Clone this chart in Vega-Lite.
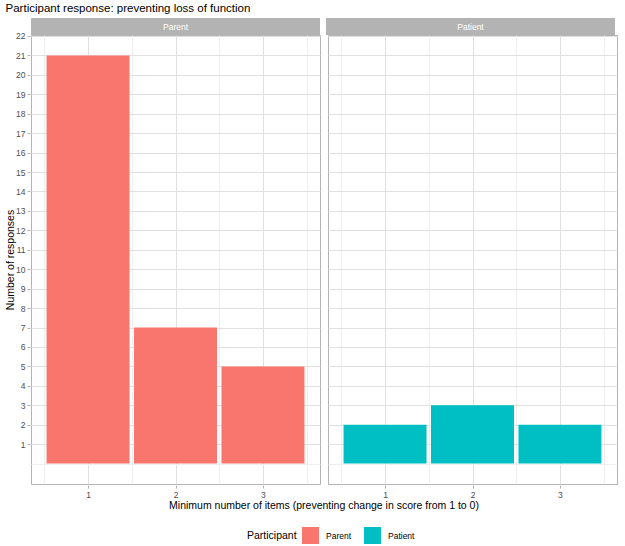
{
  "$schema": "https://vega.github.io/schema/vega-lite/v6.json",
  "background": "white",
  "padding": {"left": 5, "top": 2, "right": 5, "bottom": 5},
  "title": {"text": "Participant response: preventing loss of function", "anchor": "start", "fontSize": 11.5, "fontWeight": "normal", "font": "Liberation Sans", "color": "#000000", "offset": 4},
  "data": {"values": [
    {"Participant": "Parent", "Items": 1, "Count": 21},
    {"Participant": "Parent", "Items": 2, "Count": 7},
    {"Participant": "Parent", "Items": 3, "Count": 5},
    {"Participant": "Patient", "Items": 1, "Count": 2},
    {"Participant": "Patient", "Items": 2, "Count": 3},
    {"Participant": "Patient", "Items": 3, "Count": 2}
  ]},
  "spacing": -4,
  "vconcat": [
    {
      "facet": {"column": {"field": "Participant", "type": "nominal", "header": null}},
      "spacing": 6,
      "spec": {
        "width": 289,
        "height": 17,
        "view": {"fill": "#b3b3b3", "stroke": null},
        "transform": [{"aggregate": [{"op": "count", "as": "n"}], "groupby": ["Participant"]}],
        "mark": {"type": "text", "color": "white", "fontSize": 8.5, "font": "Liberation Sans", "baseline": "middle", "align": "center"},
        "encoding": {"text": {"field": "Participant", "type": "nominal"}}
      }
    },
    {
      "facet": {"column": {"field": "Participant", "type": "nominal", "header": {"labelOrient": "bottom", "labelExpr": "''", "labelFontSize": 1, "labelPadding": 0, "title": "Minimum number of items (preventing change in score from 1 to 0)", "titleOrient": "bottom", "titleFont": "Liberation Sans", "titleFontSize": 10.5, "titleFontWeight": "normal", "titleColor": "#000000", "titlePadding": -9}}},
      "spacing": 6,
      "spec": {
        "width": 289,
        "height": 449,
        "view": {"stroke": "#b3b3b3", "fill": "white"},
        "mark": {"type": "bar", "size": 83},
        "encoding": {
          "x": {
            "field": "Items", "type": "quantitative",
            "scale": {"domain": [0.405, 3.595], "nice": false, "zero": false},
            "axis": {
              "title": null,
              "values": [0.5, 1, 1.5, 2, 2.5, 3, 3.5],
              "labelExpr": "datum.value % 1 == 0 ? format(datum.value, 'd') : ''",
              "labelOverlap": false,
              "domain": false,
              "grid": true,
              "gridColor": {"condition": {"test": "datum.value % 1 == 0", "value": "#e0e0e0"}, "value": "#eeeeee"},
              "tickSize": {"condition": {"test": "datum.value % 1 == 0", "value": 3}, "value": 0},
              "tickColor": "#b3b3b3",
              "labelFont": "Liberation Sans", "labelFontSize": 8.5, "labelColor": "#4d4d4d", "labelPadding": 2
            }
          },
          "y": {
            "field": "Count", "type": "quantitative", "stack": null,
            "scale": {"domain": [-1.05, 22.05], "nice": false, "zero": false},
            "axis": {
              "title": "Number of responses",
              "values": [0, 0.5, 1, 1.5, 2, 2.5, 3, 3.5, 4, 4.5, 5, 5.5, 6, 6.5, 7, 7.5, 8, 8.5, 9, 9.5, 10, 10.5, 11, 11.5, 12, 12.5, 13, 13.5, 14, 14.5, 15, 15.5, 16, 16.5, 17, 17.5, 18, 18.5, 19, 19.5, 20, 20.5, 21, 21.5, 22],
              "format": "d",
              "labelExpr": "datum.value % 1 == 0 && datum.value > 0 ? datum.label : ''",
              "domain": false,
              "grid": true,
              "gridColor": {"condition": {"test": "datum.value % 1 == 0 && datum.value > 0", "value": "#e0e0e0"}, "value": "#eeeeee"},
              "tickSize": {"condition": {"test": "datum.value % 1 == 0 && datum.value > 0", "value": 3}, "value": 0},
              "tickColor": "#b3b3b3",
              "labelFont": "Liberation Sans", "labelFontSize": 8.5, "labelColor": "#4d4d4d", "labelPadding": 2,
              "titleFont": "Liberation Sans", "titleFontSize": 10.5, "titleFontWeight": "normal", "titleColor": "#000000", "titlePadding": 0
            }
          },
          "color": {
            "field": "Participant", "type": "nominal",
            "scale": {"domain": ["Parent", "Patient"], "range": ["#F8766D", "#00BFC4"]},
            "legend": {
              "orient": "none", "legendX": 216, "legendY": 509, "direction": "horizontal", "titleOrient": "left",
              "symbolType": "square", "symbolSize": 289, "symbolStrokeWidth": 0, "symbolOpacity": 1,
              "labelFont": "Liberation Sans", "labelFontSize": 8.5, "labelColor": "#000000", "labelOffset": 7,
              "titleFont": "Liberation Sans", "titleFontSize": 10.5, "titleFontWeight": "normal", "titleColor": "#000000",
              "columnPadding": 12
            }
          }
        }
      }
    }
  ]
}
